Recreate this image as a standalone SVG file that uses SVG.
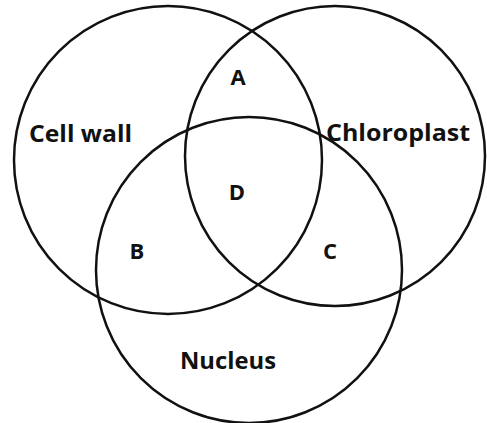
<svg xmlns="http://www.w3.org/2000/svg" width="487" height="423" viewBox="0 0 487 423">
<style>
.c{fill:none;stroke:#111;stroke-width:2.5}
.t{font-family:"Open Sans","Liberation Sans",sans-serif;font-weight:bold;fill:#111}
.lab{font-size:23px}
.let{font-size:22px}
</style>
<rect width="487" height="423" fill="#fff"/>
<g id="cell-wall"><circle class="c" cx="168" cy="160" r="154"/><text class="t lab" x="29" y="142" textLength="103" lengthAdjust="spacingAndGlyphs">Cell wall</text></g>
<g id="chloroplast"><circle class="c" cx="335" cy="156" r="150"/><text class="t lab" x="326" y="141" textLength="144" lengthAdjust="spacingAndGlyphs">Chloroplast</text></g>
<g id="nucleus"><circle class="c" cx="249" cy="270" r="153"/><text class="t lab" x="180" y="369" textLength="96" lengthAdjust="spacingAndGlyphs">Nucleus</text></g>
<g id="labels">
<text class="t let" x="238" y="85" text-anchor="middle">A</text>
<text class="t let" x="137" y="259" text-anchor="middle">B</text>
<text class="t let" x="330" y="259" text-anchor="middle">C</text>
<text class="t let" x="237" y="200" text-anchor="middle">D</text>
</g>
<g id="connectors"></g>
</svg>
